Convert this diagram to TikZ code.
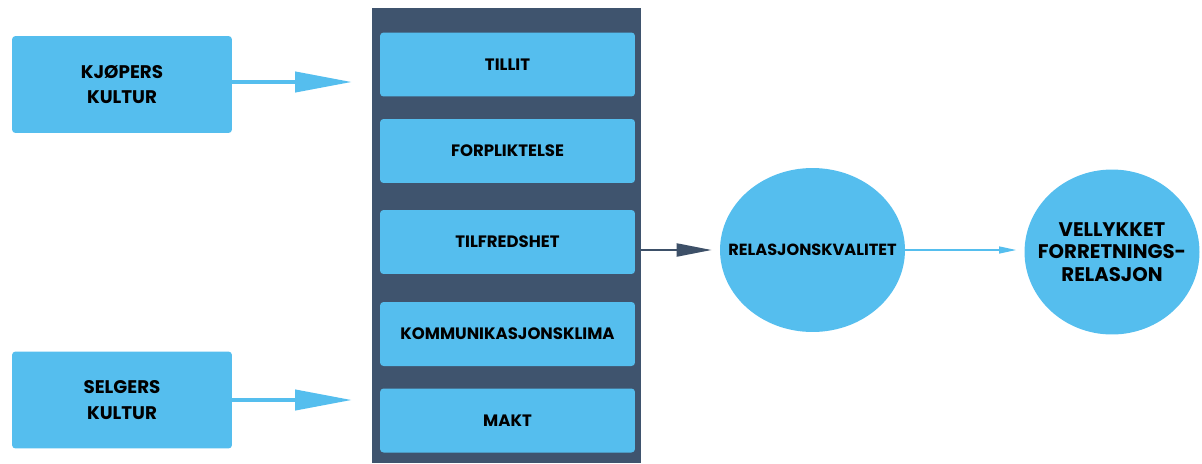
\documentclass[tikz,border=0pt]{standalone}
\usepackage{fontspec}
\setmainfont{Poppins}
\usetikzlibrary{arrows.meta,shapes.geometric}
\definecolor{lysblaa}{HTML}{55BEEE}
\definecolor{morkblaa}{HTML}{3F546E}
\definecolor{pilblaa}{HTML}{3D5068}
\tikzset{
  kultur/.style={fill=lysblaa, rounded corners=2pt, minimum width=4.4cm, minimum height=1.94cm, align=center, font=\bfseries\fontsize{10.4}{14.7}\selectfont},
  faktor/.style={fill=lysblaa, rounded corners=2pt, minimum width=5.1cm, minimum height=1.28cm, font=\bfseries\fontsize{9.4}{11}\selectfont},
  sirkel/.style={ellipse, fill=lysblaa, inner sep=0pt},
  tykkpil/.style={draw=lysblaa, line width=2.4pt, -{Triangle[length=1.14cm, width=0.4cm]}},
}
\begin{document}
\begin{tikzpicture}[x=0.02cm, y=-0.02cm, line cap=butt, line join=round]
\useasboundingbox (0,0) rectangle (1202,463);

% midtpanel med faktorene
\node[fill=morkblaa, minimum width=5.38cm, minimum height=9.1cm, inner sep=0pt] (panel) at (506.5,235.5) {};
\node[faktor] (tillit) at (507.5,64.5) {TILLIT};
\node[faktor] (forplikt) at (507.5,151) {FORPLIKTELSE};
\node[faktor] (tilfreds) at (507.5,242) {TILFREDSHET};
\node[faktor] (klima) at (507.5,334) {KOMMUNIKASJONSKLIMA};
\node[faktor] (makt) at (507.5,420.5) {MAKT};

% kulturene
\node[kultur] (kjoper) at (122,84.5) {KJØPERS\\KULTUR};
\node[kultur] (selger) at (122,400) {SELGERS\\KULTUR};
\coordinate (kjoperinn) at (352,82);
\coordinate (selgerinn) at (352,400);
\draw[tykkpil] (kjoper.east |- kjoperinn) -- (kjoperinn);
\draw[tykkpil] (selger.east |- selgerinn) -- (selgerinn);

% sirklene
\node[sirkel, minimum width=3.7cm, minimum height=3.28cm,
  label={[name=kvalitettekst, font=\bfseries\fontsize{9.2}{11}\selectfont]center:RELASJONSKVALITET}] (kvalitet) at (812.5,250) {};
\node[sirkel, minimum width=3.5cm, minimum height=3.3cm,
  label={[name=vellykkettekst, align=center, font=\bfseries\fontsize{11.2}{12.8}\selectfont]center:VELLYKKET\\FORRETNINGS-\\RELASJON}] (vellykket) at (1112,252) {};

\draw[pilblaa, line width=1.2pt, -{Triangle[length=0.7cm, width=0.26cm]}, shorten >=0.16cm] (panel.east |- kvalitet) -- (kvalitet.west);
\draw[lysblaa, line width=0.7pt, -{Triangle[length=0.34cm, width=0.14cm]}, shorten >=0.16cm] (kvalitet.east) -- (kvalitet.east -| vellykket.west);
\end{tikzpicture}
\end{document}
